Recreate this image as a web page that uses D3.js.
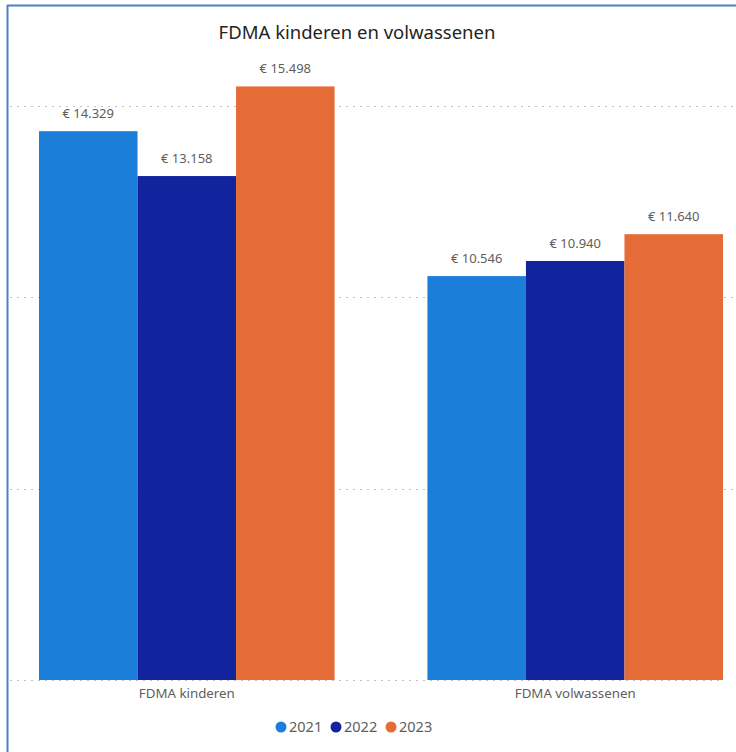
<!DOCTYPE html>
<html><head><meta charset="utf-8">
<script src="https://cdn.jsdelivr.net/npm/d3@7"></script>
<style>html,body{margin:0;padding:0;background:#fff;}svg{display:block;}</style>
</head><body>
<script>
const categories = ["FDMA kinderen", "FDMA volwassenen"];
const years = ["2021", "2022", "2023"];
const values2021 = [14329, 10546];
const values2022 = [13158, 10940];
const values2023 = [15498, 11640];
const yTicks = [0, 5000, 10000, 15000];
const colors = ["#1b7fd9", "#12239e", "#e66c37"];
const series = [values2021, values2022, values2023];

const W = 736, H = 752;
const svg = d3.select("body").append("svg").attr("width", W).attr("height", H);
const font = "'Segoe UI', 'Noto Sans', sans-serif";

// frame
svg.append("line").attr("x1", 7.5).attr("x2", 7.5).attr("y1", 5).attr("y2", H).attr("stroke", "#4f7fc4").attr("stroke-width", 2);
svg.append("line").attr("x1", 7).attr("x2", W).attr("y1", 5.5).attr("y2", 5.5).attr("stroke", "#4f7fc4").attr("stroke-width", 2);

svg.append("text").attr("x", 357).attr("y", 39).attr("text-anchor", "middle")
  .attr("font-family", font).attr("font-size", 18.5).attr("fill", "#252423")
  .text("FDMA kinderen en volwassenen");

const y = d3.scaleLinear().domain([0, 15000]).range([680, 105.5]);
const x0 = d3.scaleBand().domain(categories).range([39, 723]).paddingInner(0.239).paddingOuter(0);
const x1 = d3.scaleBand().domain(years).range([0, x0.bandwidth()]).padding(0);

// gridlines
svg.append("g").selectAll("line").data(yTicks).join("line")
  .attr("x1", 10).attr("x2", d => d === 0 ? 724 : 734)
  .attr("y1", d => Math.round(y(d)) + 0.5).attr("y2", d => Math.round(y(d)) + 0.5)
  .attr("stroke", "#c0c0c0").attr("stroke-width", 1).attr("stroke-dasharray", "2,5");

const g = svg.append("g");
categories.forEach((c, ci) => {
  years.forEach((yr, si) => {
    const v = series[si][ci];
    const bx = x0(c) + x1(yr);
    g.append("rect").attr("x", bx).attr("y", y(v)).attr("width", x1.bandwidth())
      .attr("height", y(0) - y(v)).attr("fill", colors[si]);
    g.append("text").attr("x", bx + x1.bandwidth() / 2).attr("y", y(v) - 13)
      .attr("text-anchor", "middle").attr("font-family", font).attr("font-size", 13)
      .attr("fill", "#605e5c").text("€ " + d3.format(",")(v).replace(",", "."));
  });
});

// x axis labels
svg.append("g").selectAll("text").data(categories).join("text")
  .attr("x", d => x0(d) + x0.bandwidth() / 2).attr("y", 698)
  .attr("text-anchor", "middle").attr("font-family", font).attr("font-size", 13.3)
  .attr("fill", "#605e5c").text(d => d);

// legend
const legX = [281, 336, 391];
const lg = svg.append("g");
years.forEach((yr, i) => {
  lg.append("circle").attr("cx", legX[i]).attr("cy", 727).attr("r", 5.5).attr("fill", colors[i]);
  lg.append("text").attr("x", legX[i] + 8).attr("y", 732).attr("font-family", font)
    .attr("font-size", 14.5).attr("fill", "#605e5c").text(yr);
});
</script>
</body></html>
